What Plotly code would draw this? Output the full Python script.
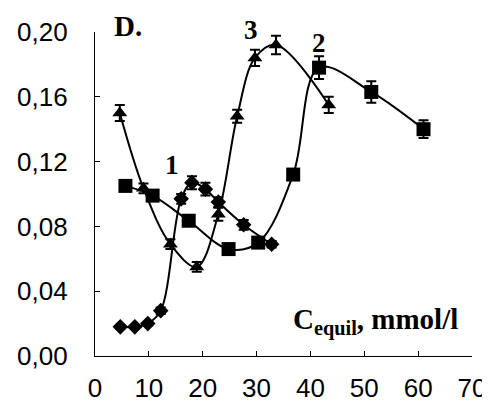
import plotly.graph_objects as go

# Series 1 (diamonds)
x1 = [4.7, 7.4, 9.8, 12.2, 16.0, 18.0, 20.5, 22.9, 27.6, 32.8]
y1 = [0.018, 0.018, 0.020, 0.028, 0.097, 0.107, 0.103, 0.095, 0.081, 0.069]
e1 = [0.001, 0.001, 0.001, 0.002, 0.003, 0.004, 0.004, 0.003, 0.003, 0.002]

# Series 2 (squares)
x2 = [5.65, 10.7, 17.4, 24.8, 30.3, 36.8, 41.6, 51.3, 61.0]
y2 = [0.105, 0.099, 0.0835, 0.066, 0.070, 0.112, 0.178, 0.163, 0.140]
e2 = [0.002, 0.002, 0.002, 0.002, 0.002, 0.003, 0.007, 0.0066, 0.0055]

# Series 3 (triangles)
x3 = [4.6, 9.0, 14.0, 18.9, 22.9, 26.4, 29.7, 33.6, 43.4]
y3 = [0.150, 0.1035, 0.069, 0.055, 0.0875, 0.148, 0.184, 0.192, 0.155]
e3 = [0.005, 0.003, 0.003, 0.003, 0.004, 0.004, 0.005, 0.0057, 0.005]

x_ticks = [0, 10, 20, 30, 40, 50, 60, 70]
y_ticks = [0.00, 0.04, 0.08, 0.12, 0.16, 0.20]
y_tick_text = ["0,00", "0,04", "0,08", "0,12", "0,16", "0,20"]

fig = go.Figure()

def add_series(x, y, e, symbol, size):
    fig.add_trace(go.Scatter(
        x=x, y=y, mode="lines+markers",
        line=dict(color="black", width=2, shape="spline", smoothing=1.0),
        marker=dict(symbol=symbol, size=size, color="black"),
        error_y=dict(type="data", array=e, visible=True, color="black",
                     thickness=2, width=5),
        showlegend=False, cliponaxis=False,
    ))

add_series(x1, y1, e1, "diamond", 12)
add_series(x2, y2, e2, "square", 14)
add_series(x3, y3, e3, "triangle-up", 13)

serif = "Liberation Serif, Times New Roman, serif"
ann = [
    dict(x=6.2, y=1.0175, yref="paper", text="<b>D.</b>", size=29),
    dict(x=14.35, y=0.118, yref="y", text="<b>1</b>", size=27),
    dict(x=29.0, y=1.007, yref="paper", text="<b>3</b>", size=27),
    dict(x=41.6, y=0.1933, yref="y", text="<b>2</b>", size=27),
    dict(x=52.1, y=0.021, yref="y",
         text="<b>C<sub>equil</sub>, mmol/l</b>", size=29),
]
for a in ann:
    fig.add_annotation(x=a["x"], y=a["y"], text=a["text"], showarrow=False,
                       font=dict(color="black", size=a["size"], family=serif),
                       xref="x", yref=a["yref"],
                       xanchor="center", yanchor="middle")

tick_font = dict(family="Arial, Liberation Sans, sans-serif", size=26, color="black")
fig.update_xaxes(
    range=[0, 70], tickvals=x_ticks, ticktext=[str(v) for v in x_ticks],
    showline=True, linecolor="black", linewidth=1.2,
    ticks="inside", ticklen=5, tickcolor="black", tickwidth=1.2,
    showgrid=False, zeroline=False, automargin=False,
    tickfont=tick_font, ticklabelstandoff=9,
)
fig.update_yaxes(
    range=[0, 0.2], tickvals=y_ticks, ticktext=y_tick_text,
    showline=True, linecolor="black", linewidth=1.2,
    ticks="inside", ticklen=5, tickcolor="black", tickwidth=1.2,
    showgrid=False, zeroline=False, automargin=False,
    tickfont=tick_font, ticklabelstandoff=21,
)
# page body has an 8px default margin; figure is shifted by (8, 8)
fig.update_layout(
    width=482, height=395,
    margin=dict(l=86.5, r=18, t=24.3, b=47.3),
    paper_bgcolor="white", plot_bgcolor="white",
)
fig.write_html("out.html")
